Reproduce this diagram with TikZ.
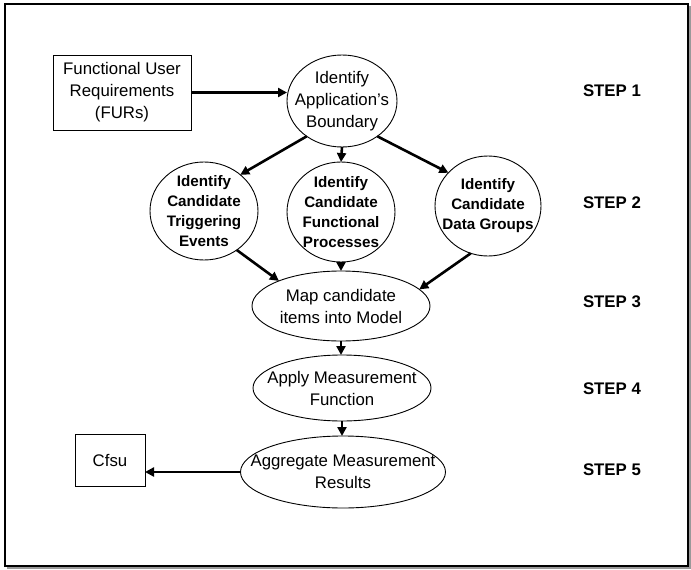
\documentclass[tikz,border=0pt]{standalone}
\usepackage{fontspec}
\setmainfont{Liberation Sans}
\usetikzlibrary{arrows.meta,shapes.geometric}

\begin{document}
\begin{tikzpicture}[x=1pt,y=-1pt,
  every node/.style={inner sep=0pt, outer sep=0pt},
  stepell/.style={ellipse, draw, line width=0.9pt},
  boxnode/.style={rectangle, draw, line width=0.9pt},
  plain/.style={align=center, font=\fontsize{16.8}{22}\selectfont},
  boldtxt/.style={align=center, font=\fontsize{15.2}{20}\selectfont\bfseries},
  steplabel/.style={anchor=west, font=\fontsize{16.8}{20}\selectfont\bfseries},
  flow/.style={line width=2.6pt, -{Triangle[length=9pt,width=9pt]}}
]
\useasboundingbox (0,0) rectangle (691,570);

% outer frame with a soft shadow on the right and bottom
\draw[black!40, line width=1.6pt] (690,6) -- (690,568) -- (7,568);
\draw[line width=1.2pt] (5,4) rectangle (688,566);

% input and output boxes
\node[boxnode, minimum width=138pt, minimum height=75pt] (furs) at (122,92.5) {};
\node[plain] at (furs) {Functional User\\Requirements\\(FURs)};
\node[boxnode, minimum width=70pt, minimum height=52pt] (cfsu) at (110,460) {};
\node[plain] at (cfsu) {Cfsu};

% step 1
\node[stepell, minimum width=110pt, minimum height=92pt] (boundary) at (342,101) {};
\node[plain] at (boundary) {Identify\\Application's\\Boundary};

% step 2
\node[stepell, minimum width=108pt, minimum height=98pt] (trig) at (204,211) {};
\node[boldtxt] at (trig) {Identify\\Candidate\\Triggering\\Events};
\node[stepell, minimum width=108pt, minimum height=100pt] (func) at (341,212) {};
\node[boldtxt] at (func) {Identify\\Candidate\\Functional\\Processes};
\node[stepell, minimum width=106pt, minimum height=100pt] (data) at (488,206) {};
\node[boldtxt] at (data) {Identify\\Candidate\\Data Groups};

% steps 3 to 5
\node[stepell, minimum width=178pt, minimum height=70pt] (map) at (341,306) {};
\node[plain] at (map) {Map candidate\\items into Model};
\node[stepell, minimum width=178pt, minimum height=66pt] (apply) at (342,388) {};
\node[plain] at (apply) {Apply Measurement\\Function};
\node[stepell, minimum width=205pt, minimum height=72pt] (agg) at (343,472) {};
\node[plain] at (agg) {Aggregate Measurement\\Results};

% step labels
\node[steplabel] (s1) at (583,91) {STEP 1};
\node[steplabel] (s2) at (583,203) {STEP 2};
\node[steplabel] (s3) at (583,302) {STEP 3};
\node[steplabel] (s4) at (583,389) {STEP 4};
\node[steplabel] (s5) at (583,470) {STEP 5};

% connectors
\draw[flow] (furs.east) -- (furs.east -| boundary.west);
\draw[flow] (boundary.225) -- (trig.45);
\draw[flow] (boundary.south) -- (func.north);
\draw[flow] (boundary.315) -- (data.140);
\draw[flow] (trig.-50) -- (map.158);
\draw[flow] (func.south) -- (map.north);
\draw[flow] (data.-110) -- (map.12);
\draw[flow] (map.south) -- (map.south |- apply.north);
\draw[flow] (apply.south) -- (apply.south |- agg.north);
\draw[flow] (agg.west) -- (agg.west -| cfsu.east);
\end{tikzpicture}
\end{document}
